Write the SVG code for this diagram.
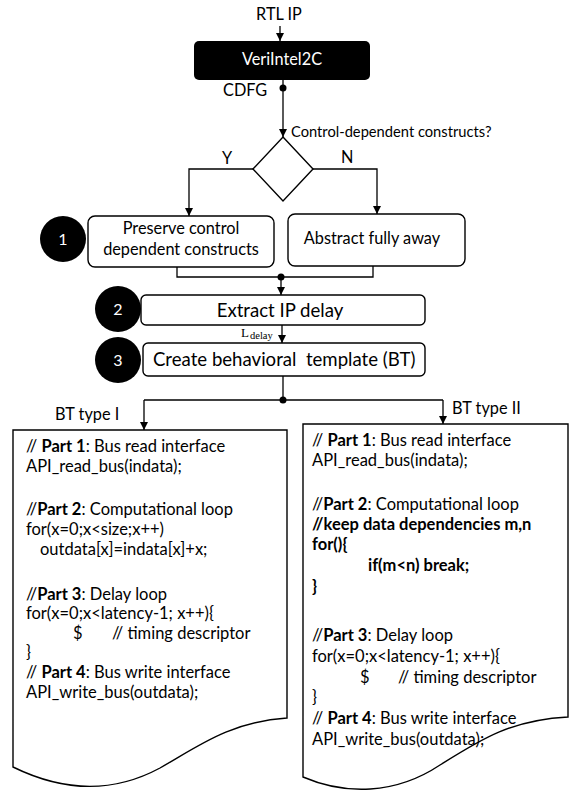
<svg xmlns="http://www.w3.org/2000/svg" width="569" height="794" viewBox="0 0 569 794">
  <defs>
    <marker id="arrow" viewBox="0 0 10 10" refX="10" refY="5" markerWidth="8" markerHeight="8" markerUnits="userSpaceOnUse" orient="auto">
      <path d="M0,0 L10,5 L0,10 z" fill="#000"/>
    </marker>
    <style>
      .lbl { font-family: Lato, "Liberation Sans", sans-serif; font-size: 16.3px; fill: #000; }
      .big { font-family: Lato, "Liberation Sans", sans-serif; font-size: 18.6px; fill: #000; white-space: pre; }
      .q { font-family: Lato, "Liberation Sans", sans-serif; font-size: 14.7px; fill: #000; }
      .num { font-family: Lato, "Liberation Sans", sans-serif; font-size: 16px; fill: #fff; text-anchor: middle; }
      .code { font-family: Lato, "Liberation Sans", sans-serif; font-size: 16.5px; fill: #000; }
      .b { font-weight: bold; }
      .box { fill: #fff; stroke: #000; stroke-width: 1.4; }
      .doc { fill: #fff; stroke: #000; stroke-width: 1.4; }
      .wire { fill: none; stroke: #000; stroke-width: 1.3; }
      .dot { fill: #000; }
      .mid { text-anchor: middle; }
    </style>
  </defs>

  <!-- connectors -->
  <g id="connectors">
    <line class="wire" x1="280" y1="26" x2="280" y2="41" marker-end="url(#arrow)"/>
    <line class="wire" x1="283" y1="80" x2="283" y2="137" marker-end="url(#arrow)"/>
    <circle class="dot" cx="283" cy="88" r="3.5"/>
    <polyline class="wire" points="253,169 189,169 189,216" marker-end="url(#arrow)"/>
    <polyline class="wire" points="313,169 377,169 377,214" marker-end="url(#arrow)"/>
    <polyline class="wire" points="177,267 177,277 373,277 373,266"/>
    <circle class="dot" cx="281" cy="277" r="3.5"/>
    <line class="wire" x1="281" y1="277" x2="281" y2="295" marker-end="url(#arrow)"/>
    <line class="wire" x1="282" y1="325" x2="282" y2="343" marker-end="url(#arrow)"/>
    <line class="wire" x1="283" y1="376" x2="283" y2="400"/>
    <path class="wire" d="M144,400 H443"/>
    <circle class="dot" cx="283" cy="400" r="3.5"/>
    <line class="wire" x1="144" y1="400" x2="144" y2="430" marker-end="url(#arrow)"/>
    <line class="wire" x1="443" y1="400" x2="443" y2="424" marker-end="url(#arrow)"/>
    <text class="lbl" x="279" y="20" text-anchor="middle">RTL IP</text>
    <text class="lbl" x="223" y="96">CDFG</text>
    <text class="q" x="291" y="137">Control-dependent constructs?</text>
    <text class="lbl" x="222" y="164">Y</text>
    <text class="lbl" x="341" y="163">N</text>
    <text font-family="'Liberation Serif', serif" font-size="13" x="241" y="337">L</text>
    <text font-family="'Liberation Serif', serif" font-size="10.5" x="250" y="339">delay</text>
    <text class="lbl" x="55" y="420">BT type I</text>
    <text class="lbl" x="452" y="414">BT type II</text>
  </g>

  <!-- translator -->
  <g id="verintel2c">
    <rect x="194" y="41" width="176" height="39" rx="5" fill="#000"/>
    <text class="lbl mid" x="282" y="65" style="fill:#fff">VeriIntel2C</text>
  </g>

  <!-- decision -->
  <g id="decision">
    <polygon class="box" points="283,137 313,169 283,201 253,169"/>
  </g>

  <g id="preserve">
    <rect class="box" x="88" y="216" width="186" height="51" rx="7"/>
    <text class="lbl mid" x="181" y="234">Preserve control</text>
    <text class="lbl mid" x="181" y="255">dependent constructs</text>
  </g>

  <g id="abstract">
    <rect class="box" x="288" y="214" width="177" height="52" rx="7"/>
    <text class="lbl mid" x="372" y="244">Abstract fully away</text>
  </g>

  <g id="extract">
    <rect class="box" x="141" y="295" width="284" height="30" rx="5"/>
    <text class="big mid" x="280" y="317">Extract IP delay</text>
  </g>

  <g id="create">
    <rect class="box" x="143" y="343" width="282" height="33" rx="5"/>
    <text class="big" x="153" y="366">Create behavioral  template (BT)</text>
  </g>

  <!-- step markers -->
  <g id="step1">
    <circle cx="63" cy="239" r="23" fill="#000"/>
    <text class="num" x="63" y="245">1</text>
  </g>
  <g id="step2">
    <circle cx="118" cy="309" r="23" fill="#000"/>
    <text class="num" x="118" y="315">2</text>
  </g>
  <g id="step3">
    <circle cx="118" cy="360" r="23" fill="#000"/>
    <text class="num" x="118" y="366">3</text>
  </g>

  <!-- behavioral template, type I -->
  <g id="bt-type-1">
    <path class="doc" d="M13,430 H287 V718 C230,722 200,745 160,768 C110,795 60,790 13,767 Z"/>
    <text class="code" x="26" y="452">// <tspan class="b">Part 1</tspan>: Bus read interface</text>
    <text class="code" x="26" y="472">API_read_bus(indata);</text>
    <text class="code" x="26" y="515">//<tspan class="b">Part 2</tspan>: Computational loop</text>
    <text class="code" x="26" y="535">for(x=0;x&lt;size;x++)</text>
    <text class="code" x="40" y="555">outdata[x]=indata[x]+x;</text>
    <text class="code" x="26" y="600">//<tspan class="b">Part 3</tspan>: Delay loop</text>
    <text class="code" x="26" y="619">for(x=0;x&lt;latency-1; x++){</text>
    <text class="code" x="73" y="639">$</text>
    <text class="code" x="112" y="639">// timing descriptor</text>
    <text class="code" x="26" y="658">}</text>
    <text class="code" x="26" y="678">// <tspan class="b">Part 4</tspan>: Bus write interface</text>
    <text class="code" x="26" y="698">API_write_bus(outdata);</text>
  </g>

  <!-- behavioral template, type II -->
  <g id="bt-type-2">
    <path class="doc" d="M303,424 H568 V717 C510,720 480,740 440,765 C395,795 345,795 303,777 Z"/>
    <text class="code" x="312" y="446">// <tspan class="b">Part 1</tspan>: Bus read interface</text>
    <text class="code" x="312" y="466">API_read_bus(indata);</text>
    <text class="code" x="312" y="510">//<tspan class="b">Part 2</tspan>: Computational loop</text>
    <text class="code b" x="312" y="530">//keep data dependencies m,n</text>
    <text class="code b" x="312" y="550">for(){</text>
    <text class="code b" x="368" y="571">if(m&lt;n) break;</text>
    <text class="code b" x="312" y="592">}</text>
    <text class="code" x="312" y="641">//<tspan class="b">Part 3</tspan>: Delay loop</text>
    <text class="code" x="312" y="662">for(x=0;x&lt;latency-1; x++){</text>
    <text class="code" x="360" y="683">$</text>
    <text class="code" x="398" y="683">// timing descriptor</text>
    <text class="code" x="312" y="703">}</text>
    <text class="code" x="312" y="724">// <tspan class="b">Part 4</tspan>: Bus write interface</text>
    <text class="code" x="312" y="745">API_write_bus(outdata);</text>
  </g>
</svg>
